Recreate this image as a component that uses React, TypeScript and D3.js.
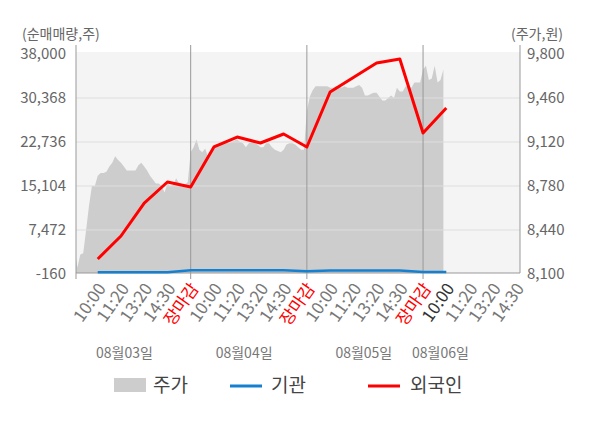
import { useEffect, useRef } from 'react';
import * as d3 from 'd3';

// x axis labels, one per slot (slot 1..19)
const timeLabels = [
  '10:00', '11:20', '13:20', '14:30', '장마감',
  '10:00', '11:20', '13:20', '14:30', '장마감',
  '10:00', '11:20', '13:20', '14:30', '장마감',
  '10:00', '11:20', '13:20', '14:30',
];
const dateLabels = ['08월03일', '08월04일', '08월05일', '08월06일'];
const dateSlots = [2.15, 7.3, 12.45, 15.75];

const leftTicks = [-160, 7472, 15104, 22736, 30368, 38000];
const rightTicks = [8100, 8440, 8780, 9120, 9460, 9800];

// 외국인 / 기관 net volume at slots 1..16
const foreignNet = [2440, 6430, 12150, 15800, 14930, 21870, 23600, 22560, 24120, 21870, 31410, 33920, 36440, 37130, 24300, 28630];
const institutionNet = [150, 150, 150, 150, 470, 470, 470, 470, 470, 330, 430, 430, 430, 430, 180, 180];

// 주가, sampled 8 times per slot through each day
const priceDay1 = [
  8300, 8150, 8250, 8260, 8440, 8630, 8780, 8780, 8860, 8880,
  8880, 8890, 8930, 8960, 9010, 8980, 8960, 8930, 8900, 8900,
  8900, 8900, 8940, 8960, 8930, 8900, 8860, 8830, 8800, 8800,
  8780, 8730, 8800, 8780, 8790, 8840, 8800, 8790, 8790, 8810,
];
const priceDay2 = [
  9040, 9080, 9140, 9060, 9040, 9070, 9000, 9040, 9070, 9100,
  9100, 9110, 9120, 9110, 9120, 9130, 9140, 9120, 9110, 9080,
  9110, 9120, 9110, 9100, 9080, 9080, 9110, 9110, 9080, 9060,
  9050, 9040, 9060, 9100, 9110, 9110, 9100, 9080, 9060, 9060,
];
const priceDay3 = [
  9360, 9470, 9520, 9550, 9550, 9550, 9550, 9550, 9540, 9540,
  9550, 9550, 9540, 9550, 9540, 9540, 9540, 9550, 9560, 9540,
  9480, 9480, 9490, 9500, 9500, 9470, 9440, 9440, 9460, 9480,
  9460, 9540, 9510, 9510, 9550, 9550, 9540, 9580, 9580, 9580,
];
const priceDay4 = [9680, 9710, 9600, 9610, 9710, 9580, 9600, 9680];

const FONT = '"Noto Sans CJK KR", "Noto Sans", sans-serif';
const fmt = (v: number) => d3.format(',')(v).replace('\u2212', '-');

export default function App() {
  const svgRef = useRef<SVGSVGElement>(null);

  useEffect(() => {
    if (!svgRef.current) return;
    document.body.style.margin = '0';

    const svg = d3.select(svgRef.current);
    svg.selectAll('*').remove();

    const width = 600;
    const height = 428;
    const plot = { left: 76, right: 520, top: 52, bottom: 273 };

    const x = d3.scaleLinear().domain([0, 19]).range([74.5, 516]);
    const yLeft = d3.scaleLinear().domain([-160, 38000]).range([274, 54]);
    const yRight = d3.scaleLinear().domain([8100, 9800]).range([274, 54]);

    svg.append('rect').attr('width', width).attr('height', height).attr('fill', 'white');

    svg.append('defs').append('clipPath').attr('id', 'plot-clip')
      .append('rect')
      .attr('x', plot.left)
      .attr('y', plot.top)
      .attr('width', plot.right - plot.left)
      .attr('height', plot.bottom - plot.top);

    // plot background
    svg.append('rect')
      .attr('x', plot.left)
      .attr('y', plot.top)
      .attr('width', plot.right - plot.left)
      .attr('height', plot.bottom - plot.top)
      .attr('fill', '#f4f4f4');

    // price area
    const priceData: { slot: number; value: number }[] = [];
    [priceDay1, priceDay2, priceDay3, priceDay4].forEach((day, d) => {
      day.forEach((v, i) => priceData.push({ slot: d * 5 + i * 0.125, value: v }));
    });

    const area = d3.area<{ slot: number; value: number }>()
      .x(d => x(d.slot))
      .y0(yRight(8100))
      .y1(d => yRight(d.value));

    svg.append('path')
      .datum(priceData)
      .attr('clip-path', 'url(#plot-clip)')
      .attr('d', area)
      .attr('fill', '#cdcdcd');

    // gridlines
    svg.append('g')
      .selectAll('line')
      .data(leftTicks.slice(1, -1))
      .enter().append('line')
      .attr('x1', plot.left)
      .attr('x2', plot.right)
      .attr('y1', d => yLeft(d))
      .attr('y2', d => yLeft(d))
      .attr('stroke', '#dedede')
      .attr('stroke-width', 1);

    // day separators
    svg.append('g')
      .selectAll('line')
      .data([5, 10, 15])
      .enter().append('line')
      .attr('x1', d => x(d))
      .attr('x2', d => x(d))
      .attr('y1', 45)
      .attr('y2', 279)
      .attr('stroke', '#999')
      .attr('stroke-width', 1);

    // axis frame
    const frame = svg.append('g').attr('stroke', '#999').attr('stroke-width', 1);
    frame.append('line').attr('x1', plot.left).attr('x2', plot.left).attr('y1', 45).attr('y2', 279);
    frame.append('line').attr('x1', plot.right).attr('x2', plot.right).attr('y1', 45).attr('y2', plot.bottom);
    frame.append('line').attr('x1', plot.left).attr('x2', plot.right).attr('y1', plot.bottom).attr('y2', plot.bottom);

    // net lines
    const line = d3.line<number>()
      .x((_, i) => x(i + 1))
      .y(d => yLeft(d));

    svg.append('path')
      .datum(institutionNet)
      .attr('d', line)
      .attr('fill', 'none')
      .attr('stroke', '#1580d0')
      .attr('stroke-width', 2.5);

    svg.append('path')
      .datum(foreignNet)
      .attr('d', line)
      .attr('fill', 'none')
      .attr('stroke', '#ff0000')
      .attr('stroke-width', 3)
      .attr('stroke-linejoin', 'round');

    // left axis labels
    svg.append('g')
      .selectAll('text')
      .data(leftTicks)
      .enter().append('text')
      .attr('x', 66)
      .attr('y', d => yLeft(d))
      .attr('dy', '0.35em')
      .attr('text-anchor', 'end')
      .style('font-family', FONT)
      .style('font-size', '15px')
      .attr('fill', '#666')
      .text(d => fmt(d));

    // right axis labels
    svg.append('g')
      .selectAll('text')
      .data(rightTicks)
      .enter().append('text')
      .attr('x', 527)
      .attr('y', d => yRight(d))
      .attr('dy', '0.35em')
      .attr('text-anchor', 'start')
      .style('font-family', FONT)
      .style('font-size', '15px')
      .attr('fill', '#666')
      .text(d => fmt(d));

    svg.append('text')
      .attr('x', 22)
      .attr('y', 39)
      .style('font-family', FONT)
      .style('font-size', '14px')
      .attr('fill', '#666')
      .text('(순매매량,주)');

    svg.append('text')
      .attr('x', 563)
      .attr('y', 39)
      .attr('text-anchor', 'end')
      .style('font-family', FONT)
      .style('font-size', '14px')
      .attr('fill', '#666')
      .text('(주가,원)');

    // x labels
    svg.append('g')
      .selectAll('text')
      .data(timeLabels)
      .enter().append('text')
      .attr('transform', (_, i) => `translate(${x(i + 1) + 4},${285}) rotate(-55)`)
      .attr('text-anchor', 'end')
      .attr('dy', '0.35em')
      .style('font-family', FONT)
      .style('font-size', '17px')
      .attr('fill', (d, i) => (d === '장마감' ? '#ff0000' : i === 15 ? '#333' : '#777'))
      .text(d => d);

    svg.append('g')
      .selectAll('text')
      .data(dateLabels)
      .enter().append('text')
      .attr('x', (_, i) => x(dateSlots[i]))
      .attr('y', 358)
      .attr('text-anchor', 'middle')
      .style('font-family', FONT)
      .style('font-size', '14px')
      .attr('fill', '#777')
      .text(d => d);

    // legend
    const legend = svg.append('g').style('font-family', FONT).style('font-size', '19px');
    legend.append('rect').attr('x', 114).attr('y', 378).attr('width', 32).attr('height', 14).attr('fill', '#cdcdcd');
    legend.append('text').attr('x', 153).attr('y', 385).attr('dy', '0.35em').attr('fill', '#444').text('주가');
    legend.append('line').attr('x1', 230).attr('x2', 262).attr('y1', 386).attr('y2', 386)
      .attr('stroke', '#1580d0').attr('stroke-width', 3);
    legend.append('text').attr('x', 271).attr('y', 385).attr('dy', '0.35em').attr('fill', '#444').text('기관');
    legend.append('line').attr('x1', 368).attr('x2', 400).attr('y1', 386).attr('y2', 386)
      .attr('stroke', '#ff0000').attr('stroke-width', 3);
    legend.append('text').attr('x', 410).attr('y', 385).attr('dy', '0.35em').attr('fill', '#444').text('외국인');
  }, []);

  return <svg ref={svgRef} width={600} height={428} style={{ display: 'block' }} />;
}
